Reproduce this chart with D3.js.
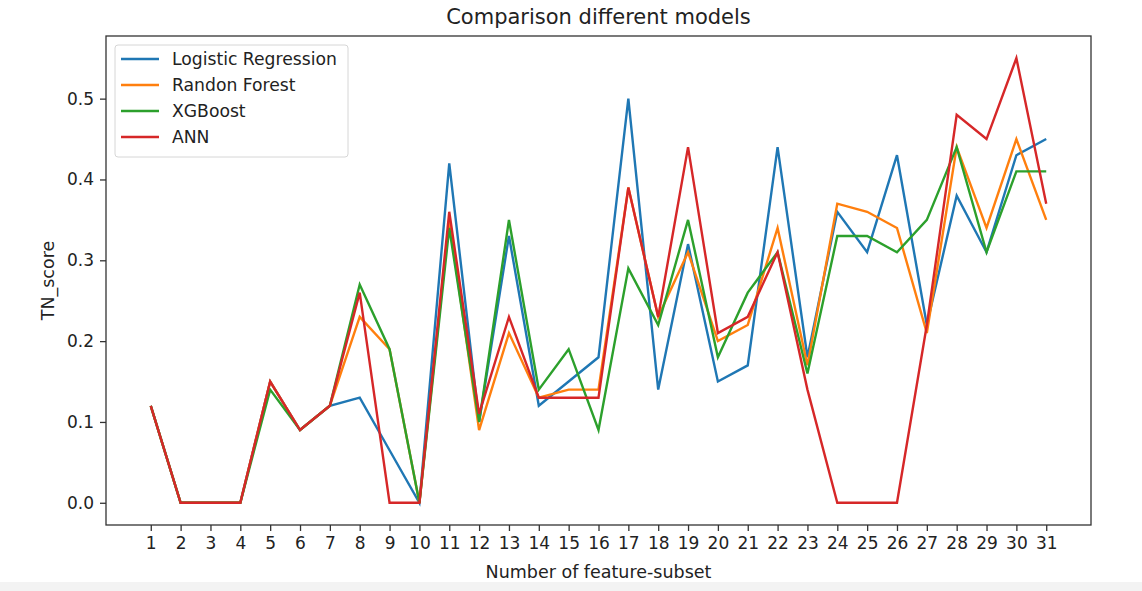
<!DOCTYPE html>
<html>
<head>
<meta charset="utf-8">
<script src="https://cdn.jsdelivr.net/npm/d3@7"></script>
<style>
  body { margin: 0; background: #fff; }
  svg text { font-family: "DejaVu Sans", sans-serif; fill: #222; }
</style>
</head>
<body>
<div id="chart"></div>
<script>
// feature subsets 1..31
const subsets = d3.range(1, 32);

const logisticRegression = [0.12, 0, 0, 0, 0.15, 0.09, 0.12, 0.13, 0.065, 0, 0.42, 0.10, 0.33, 0.12, 0.15, 0.18, 0.50, 0.14, 0.32, 0.15, 0.17, 0.44, 0.18, 0.36, 0.31, 0.43, 0.22, 0.38, 0.31, 0.43, 0.45];
const randomForest = [0.12, 0, 0, 0, 0.15, 0.09, 0.12, 0.23, 0.19, 0, 0.35, 0.09, 0.21, 0.13, 0.14, 0.14, 0.39, 0.23, 0.31, 0.20, 0.22, 0.34, 0.17, 0.37, 0.36, 0.34, 0.21, 0.44, 0.34, 0.45, 0.35];
const xgboost = [0.12, 0, 0, 0, 0.14, 0.09, 0.12, 0.27, 0.19, 0, 0.34, 0.10, 0.35, 0.14, 0.19, 0.09, 0.29, 0.22, 0.35, 0.18, 0.26, 0.31, 0.16, 0.33, 0.33, 0.31, 0.35, 0.44, 0.31, 0.41, 0.41];
const ann = [0.12, 0, 0, 0, 0.15, 0.09, 0.12, 0.26, 0, 0, 0.36, 0.11, 0.23, 0.13, 0.13, 0.13, 0.39, 0.23, 0.44, 0.21, 0.23, 0.31, 0.14, 0, 0, 0, 0.22, 0.48, 0.45, 0.55, 0.37];

const seriesNames = ["Logistic Regression", "Randon Forest", "XGBoost", "ANN"];
const seriesColors = ["#1f77b4", "#ff7f0e", "#2ca02c", "#d62728"];
const yTicks = [0.0, 0.1, 0.2, 0.3, 0.4, 0.5];

const width = 1142;
const height = 591;
const plot = { left: 106, right: 1091, top: 36, bottom: 525 };

const series = [logisticRegression, randomForest, xgboost, ann].map((vals, i) => ({
    name: seriesNames[i],
    color: seriesColors[i],
    values: vals.map((v, j) => ({ x: subsets[j], y: v }))
}));

const svg = d3.select("#chart")
    .append("svg")
    .attr("width", width)
    .attr("height", height);

// light band at the very bottom of the screenshot
svg.append("rect")
    .attr("x", 0).attr("y", 582)
    .attr("width", width).attr("height", height - 582)
    .attr("fill", "#f3f3f3");

// matplotlib style 5% margins
const xScale = d3.scaleLinear()
    .domain([-0.5, 32.5])
    .range([plot.left, plot.right]);

const yScale = d3.scaleLinear()
    .domain([-0.0275, 0.5775])
    .range([plot.bottom, plot.top]);

const xAxis = d3.axisBottom(xScale).tickValues(subsets).tickFormat(d3.format("d")).tickSize(6).tickPadding(6);
const gx = svg.append("g")
    .attr("transform", `translate(0, ${plot.bottom})`)
    .call(xAxis);

const yAxis = d3.axisLeft(yScale).tickValues(yTicks).tickFormat(d3.format(".1f")).tickSize(6).tickPadding(6);
const gy = svg.append("g")
    .attr("transform", `translate(${plot.left}, 0)`)
    .call(yAxis);

[gx, gy].forEach(g => {
    g.select(".domain").remove();
    g.selectAll(".tick line").attr("stroke", "#333").attr("stroke-width", 1.3);
    g.selectAll(".tick text").attr("font-size", "17px").attr("fill", "#222");
});

const line = d3.line()
    .x(d => xScale(d.x))
    .y(d => yScale(d.y));

svg.selectAll(".series")
    .data(series)
    .join("path")
    .attr("class", "series")
    .attr("d", d => line(d.values))
    .attr("fill", "none")
    .attr("stroke", d => d.color)
    .attr("stroke-width", 2.4)
    .attr("stroke-linejoin", "miter");

// frame
svg.append("rect")
    .attr("x", plot.left).attr("y", plot.top)
    .attr("width", plot.right - plot.left).attr("height", plot.bottom - plot.top)
    .attr("fill", "none")
    .attr("stroke", "#333")
    .attr("stroke-width", 1.3);

// title + axis labels
svg.append("text")
    .attr("x", (plot.left + plot.right) / 2)
    .attr("y", 24)
    .attr("text-anchor", "middle")
    .attr("font-size", "21px")
    .text("Comparison different models");

svg.append("text")
    .attr("x", (plot.left + plot.right) / 2)
    .attr("y", 578)
    .attr("text-anchor", "middle")
    .attr("font-size", "17.5px")
    .text("Number of feature-subset");

svg.append("text")
    .attr("transform", `translate(54, ${(plot.top + plot.bottom) / 2}) rotate(-90)`)
    .attr("text-anchor", "middle")
    .attr("font-size", "17.5px")
    .text("TN_score");

// legend
const legend = svg.append("g").attr("transform", "translate(115, 45)");
legend.append("rect")
    .attr("width", 233).attr("height", 112)
    .attr("rx", 3)
    .attr("fill", "#fff")
    .attr("fill-opacity", 0.8)
    .attr("stroke", "#d6d6d6");

const entries = legend.selectAll(".entry")
    .data(series)
    .join("g")
    .attr("class", "entry")
    .attr("transform", (d, i) => `translate(0, ${14 + i * 26})`);

entries.append("line")
    .attr("x1", 6).attr("x2", 44)
    .attr("y1", 0).attr("y2", 0)
    .attr("stroke", d => d.color)
    .attr("stroke-width", 2.4);

entries.append("text")
    .attr("x", 57)
    .attr("y", 6)
    .attr("font-size", "17.2px")
    .text(d => d.name);
</script>
</body>
</html>
